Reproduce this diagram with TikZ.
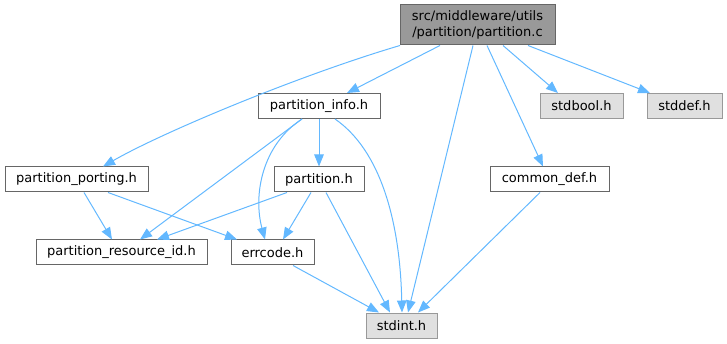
\documentclass[tikz,border=0pt]{standalone}
\usepackage{fontspec}
\setmainfont{DejaVu Sans}
\usetikzlibrary{arrows.meta}
\definecolor{edgec}{HTML}{63B8FF}
\definecolor{bord}{HTML}{666666}
\definecolor{extbord}{HTML}{999999}
\definecolor{extfill}{HTML}{E0E0E0}
\definecolor{mainfill}{HTML}{999999}
\begin{document}
\begin{tikzpicture}[x=1pt,y=-1pt,
  file/.style={draw=bord, line width=1pt, fill=white, inner sep=0pt, font=\fontsize{13}{16}\selectfont, align=center},
  ext/.style={file, draw=extbord, fill=extfill},
  mainf/.style={file, fill=mainfill},
  dep/.style={draw=edgec, line width=1pt, -{Triangle[length=12pt,width=9.5pt]}}]
\useasboundingbox (0,0) rectangle (727,344);
\node[mainf, minimum width=155pt, minimum height=40pt] (main) at (477.5,25) {src/middleware/utils\\/partition/partition.c};
\node[file, minimum width=122pt, minimum height=25pt] (pinfo) at (319,106) {partition\_info.h};
\node[ext, minimum width=83pt, minimum height=25pt] (stdbool) at (581.5,106) {stdbool.h};
\node[ext, minimum width=75pt, minimum height=25pt] (stddef) at (684.5,106) {stddef.h};
\node[file, minimum width=143pt, minimum height=25pt] (pport) at (76.5,179.5) {partition\_porting.h};
\node[file, minimum width=90pt, minimum height=25pt] (part) at (319,179.5) {partition.h};
\node[file, minimum width=119pt, minimum height=25pt] (cdef) at (549.5,179.5) {common\_def.h};
\node[file, minimum width=171pt, minimum height=25pt] (presid) at (121.5,252.5) {partition\_resource\_id.h};
\node[file, minimum width=83pt, minimum height=25pt] (err) at (272.5,252.5) {errcode.h};
\node[ext, minimum width=71pt, minimum height=25pt] (stdint) at (401.5,325.5) {stdint.h};

\draw[dep] ([xshift=-77.5pt]main.south) .. controls (300,75) and (163,132) .. ([xshift=26.5pt]pport.north);
\draw[dep] ([xshift=-37.5pt]main.south) -- ([xshift=28pt]pinfo.north);
\draw[dep] ([xshift=-4.5pt]main.south) -- ([xshift=6.5pt]stdint.north);
\draw[dep] ([xshift=9.5pt]main.south) -- ([xshift=-6.5pt]cdef.north);
\draw[dep] ([xshift=25.5pt]main.south) -- ([xshift=-23.5pt]stdbool.north);
\draw[dep] ([xshift=50.5pt]main.south) -- ([xshift=-34.5pt]stddef.north);

\draw[dep] (pinfo.south) -- (part.north);
\draw[dep] ([xshift=-17pt]pinfo.south) -- ([xshift=18.5pt]presid.north);
\draw[dep] ([xshift=-17pt]pinfo.south) .. controls (262,145) and (253,195) .. ([xshift=-7.5pt]err.north);
\draw[dep] ([xshift=16pt]pinfo.south) .. controls (380,150) and (400,220) .. ([xshift=0.5pt]stdint.north);

\draw[dep] ([xshift=-32pt]part.south) -- ([xshift=35.5pt]presid.north);
\draw[dep] ([xshift=-8pt]part.south) -- ([xshift=10.5pt]err.north);
\draw[dep] ([xshift=7pt]part.south) -- ([xshift=-11.5pt]stdint.north);

\draw[dep] ([xshift=7.5pt]pport.south) -- ([xshift=-9.5pt]presid.north);
\draw[dep] ([xshift=31.5pt]pport.south) -- ([xshift=-35.5pt]err.north);

\draw[dep] ([xshift=20.5pt]err.south) -- ([xshift=-22.5pt]stdint.north);
\draw[dep] ([xshift=-9.5pt]cdef.south) -- ([xshift=16.5pt]stdint.north);
\end{tikzpicture}
\end{document}
